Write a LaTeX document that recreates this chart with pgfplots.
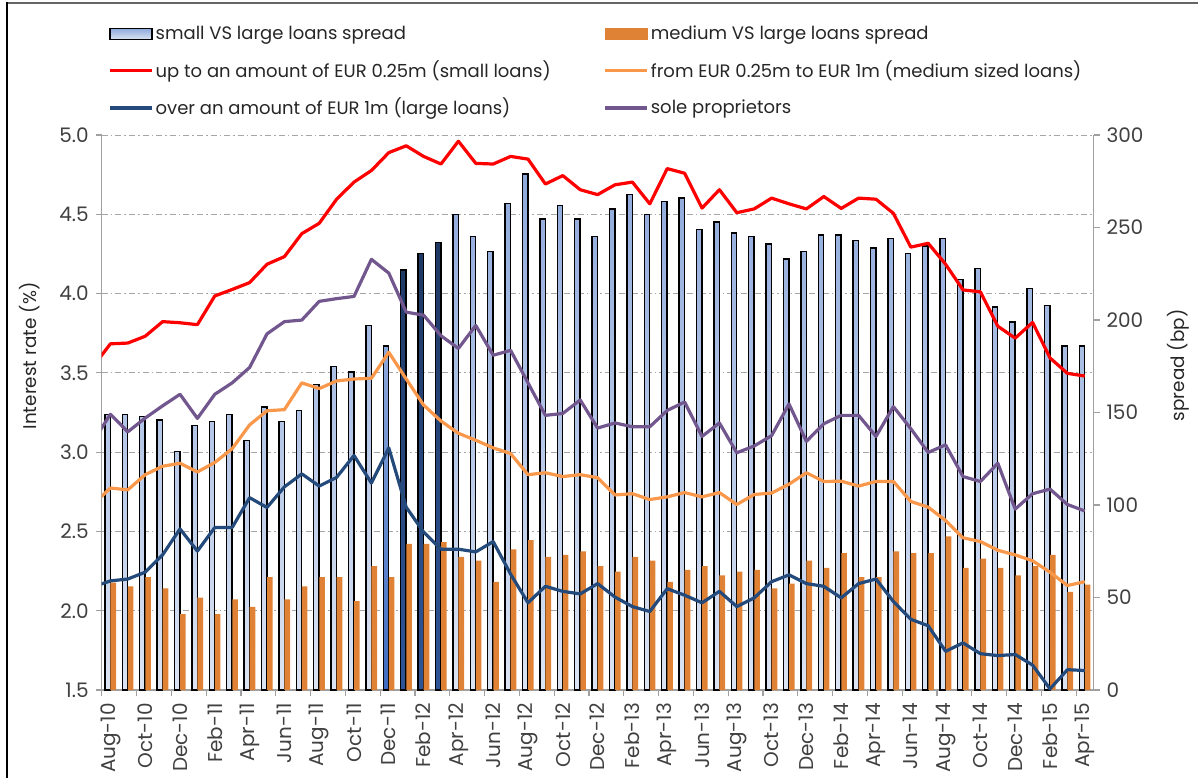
\documentclass[border=0pt]{standalone}
\usepackage{pgfplots}
\pgfplotsset{compat=1.18}
\usepackage{fontspec}
\setmainfont{Poppins}
\definecolor{txt}{HTML}{404040}
\definecolor{legtxt}{HTML}{262626}
\definecolor{axgray}{HTML}{A0A0A0}
\definecolor{gridgray}{HTML}{A6A6A6}
\definecolor{barTop}{HTML}{8EA9DB}
\definecolor{barBot}{HTML}{DCE4F3}
\definecolor{darkTop}{HTML}{1F3864}
\definecolor{darkBot}{HTML}{2F5597}
\definecolor{midBot}{HTML}{3F6CC0}
\definecolor{orBar}{HTML}{DF8236}
\definecolor{cRed}{HTML}{FF0000}
\definecolor{cOr}{HTML}{F9984A}
\definecolor{cBlue}{HTML}{234A7B}
\definecolor{cPur}{HTML}{72578F}
\newcommand\tickfont{\fontsize{10}{12}\selectfont}
\newcommand\labfont{\fontsize{9.2}{11}\selectfont}
\pgfplotsset{base/.style={scale only axis, width=495.9pt, height=277.5pt,
  at={(50.85pt,44pt)}, anchor=south west, xmin=-0.5, xmax=56.5,
  /pgf/number format/assume math mode=true}}
\begin{document}
\begin{tikzpicture}
\useasboundingbox (0,0) rectangle (599pt,389pt);
\draw[black!60, line width=1pt] (3.5pt,387.5pt) -- (599pt,387.5pt);
\draw[black, line width=1pt] (3.5pt,0pt) -- (3.5pt,388pt);
% axis 1: grid, left axis, x ticks
\begin{axis}[base, ymin=1.5, ymax=5, ytick={1.5,2,...,5},
  axis x line*=bottom, axis y line*=left,
  axis line style={draw=axgray, line width=0.6pt},
  tick align=outside, major tick length=3pt,
  tick style={draw=axgray, line width=0.6pt},
  ymajorgrids, grid style={draw=gridgray, line width=0.5pt, dash pattern=on 3pt off 1.5pt on 0.8pt off 1.5pt},
  xtick={-0.5,1.5,...,55.5}, xticklabels={},
  extra x ticks={0,2,...,56},
  extra x tick labels={Aug-10,Oct-10,Dec-10,Feb-11,Apr-11,Jun-11,Aug-11,Oct-11,Dec-11,Feb-12,Apr-12,Jun-12,Aug-12,Oct-12,Dec-12,Feb-13,Apr-13,Jun-13,Aug-13,Oct-13,Dec-13,Feb-14,Apr-14,Jun-14,Aug-14,Oct-14,Dec-14,Feb-15,Apr-15},
  extra x tick style={major tick length=0pt},
  xticklabel style={rotate=90, anchor=east, font=\tickfont, text=txt},
  xticklabel shift=3pt,
  yticklabel style={font=\tickfont, text=txt, /pgf/number format/fixed, /pgf/number format/fixed zerofill, /pgf/number format/precision=1},
  ylabel={Interest rate (\%)},
  every axis y label/.style={at={(axis description cs:-0.0723,0.602)}, anchor=center, rotate=90, font=\labfont, text=legtxt},
]
\end{axis}
% axis 2: bars on right axis
\begin{axis}[base, ymin=0, ymax=300, ytick={0,50,...,300},
  axis y line*=right, hide x axis,
  axis line style={draw=axgray, line width=0.6pt},
  tick align=outside, major tick length=3pt,
  tick style={draw=axgray, line width=0.6pt},
  yticklabel style={font=\tickfont, text=txt},
  ylabel={spread (bp)},
  every axis y label/.style={at={(axis description cs:1.0852,0.585)}, anchor=center, rotate=90, font=\labfont, text=legtxt},
]
\addplot[ybar, bar width=0.31, bar shift=-0.16, draw=black, line width=0.7pt, top color=barTop, bottom color=barBot] coordinates {
(0,149)(1,149)(2,148)(3,146)(4,129)(5,143)(6,145)(7,149)(8,135)(9,153)
(10,145)(11,151)(12,165)(13,175)(14,172)(15,197)
(20,257)(21,245)(22,237)(23,263)(24,279)(25,254.5)(26,262)(27,254.5)(28,245)(29,260)
(30,268)(31,257)(32,264)(33,266)(34,249)(35,253)(36,247)(37,245)(38,241)(39,233)
(40,237)(41,246)(42,246)(43,243)(44,239)(45,244)(46,236)(47,240)(48,244)(49,222)
(50,228)(51,207)(52,199)(53,217)(54,208)(55,186)(56,186)};
\addplot[ybar, bar width=0.31, bar shift=-0.16, draw=black, line width=0.7pt, top color=barTop, bottom color=midBot] coordinates {(16,186)};
\addplot[ybar, bar width=0.31, bar shift=-0.16, draw=black, line width=0.7pt, top color=darkTop, bottom color=darkBot] coordinates {(17,227)(18,236)(19,242)};
\addplot[ybar, bar width=0.32, bar shift=0.165, fill=orBar, draw=none] coordinates {
(0,58)(1,56)(2,61)(3,55)(4,41)(5,50)(6,41)(7,49)(8,45)(9,61)
(10,49)(11,56)(12,61)(13,61)(14,48)(15,67)(16,61)(17,79)(18,79)(19,80)
(20,72)(21,70)(22,58.5)(23,76)(24,81)(25,72)(26,73)(27,75)(28,67)(29,64)
(30,72)(31,70)(32,58.5)(33,65)(34,67)(35,62)(36,64)(37,65)(38,55)(39,57.5)
(40,70)(41,66)(42,74)(43,61)(44,61)(45,75)(46,74)(47,74)(48,83)(49,66)
(50,71)(51,66)(52,62)(53,67)(54,73)(55,53)(56,57)};
\end{axis}
% axis 3: lines
\begin{axis}[base, ymin=1.5, ymax=5, hide axis,
  legend columns=2,
  legend cell align=left,
  legend image code/.code={\draw[#1] (0pt,0pt) -- (21pt,0pt);},
  legend style={at={(0.0064,1.205)}, anchor=north west, draw=none, fill=none,
    font=\fontsize{9}{11}\selectfont, text=legtxt, inner sep=0pt, row sep=5pt,
    nodes={inner xsep=1pt},
    /tikz/every even column/.append style={column sep=0pt}},
]
\addlegendimage{legend image code/.code={\draw[draw=black,line width=0.7pt,top color=barTop,bottom color=barBot] (0pt,-2.8pt) rectangle (21pt,2.8pt);}}
\addlegendentry{\makebox[223pt][l]{small VS large loans spread}}
\addlegendimage{legend image code/.code={\fill[orBar] (0pt,-2.8pt) rectangle (21pt,2.8pt);}}
\addlegendentry{medium VS large loans spread}
\addplot[cRed, line width=1.6pt, line join=round] coordinates {
(-1,3.54)(0,3.683)(1,3.688)(2,3.731)(3,3.823)(4,3.816)(5,3.804)(6,3.985)(7,4.026)(8,4.069)(9,4.185)
(10,4.233)(11,4.378)(12,4.443)(13,4.595)(14,4.703)(15,4.776)(16,4.889)(17,4.932)(18,4.865)(19,4.817)
(20,4.961)(21,4.821)(22,4.817)(23,4.865)(24,4.848)(25,4.691)(26,4.744)(27,4.655)(28,4.624)(29,4.686)
(30,4.703)(31,4.566)(32,4.788)(33,4.759)(34,4.539)(35,4.655)(36,4.510)(37,4.534)(38,4.602)(39,4.566)
(40,4.534)(41,4.612)(42,4.537)(43,4.602)(44,4.595)(45,4.506)(46,4.293)(47,4.317)(48,4.185)(49,4.023)
(50,4.011)(51,3.794)(52,3.719)(53,3.818)(54,3.594)(55,3.497)(56,3.480)};
\addlegendentry{\makebox[223pt][l]{up to an amount of EUR 0.25m (small loans)}}
\addplot[cOr, line width=1.6pt, line join=round] coordinates {
(-1,2.67)(0,2.774)(1,2.762)(2,2.858)(3,2.911)(4,2.930)(5,2.875)(6,2.935)(7,3.022)(8,3.172)(9,3.261)
(10,3.268)(11,3.437)(12,3.401)(13,3.449)(14,3.461)(15,3.466)(16,3.630)(17,3.461)(18,3.297)(19,3.196)
(20,3.119)(21,3.075)(22,3.027)(23,2.991)(24,2.858)(25,2.870)(26,2.846)(27,2.858)(28,2.839)(29,2.730)
(30,2.738)(31,2.701)(32,2.718)(33,2.745)(34,2.718)(35,2.745)(36,2.670)(37,2.733)(38,2.742)(39,2.798)
(40,2.870)(41,2.815)(42,2.817)(43,2.786)(44,2.815)(45,2.815)(46,2.689)(47,2.653)(48,2.569)(49,2.460)
(50,2.436)(51,2.381)(52,2.352)(53,2.315)(54,2.243)(55,2.159)(56,2.183)};
\addlegendentry{from EUR 0.25m to EUR 1m (medium sized loans)}
\addplot[cBlue, line width=1.6pt, line join=round] coordinates {
(-1,2.15)(0,2.188)(1,2.200)(2,2.243)(3,2.352)(4,2.516)(5,2.376)(6,2.525)(7,2.525)(8,2.713)(9,2.651)
(10,2.781)(11,2.863)(12,2.786)(13,2.841)(14,2.979)(15,2.805)(16,3.027)(17,2.653)(18,2.496)(19,2.388)
(20,2.388)(21,2.371)(22,2.436)(23,2.231)(24,2.050)(25,2.154)(26,2.122)(27,2.106)(28,2.171)(29,2.086)
(30,2.026)(31,1.995)(32,2.139)(33,2.098)(34,2.050)(35,2.122)(36,2.026)(37,2.081)(38,2.183)(39,2.226)
(40,2.171)(41,2.154)(42,2.081)(43,2.171)(44,2.200)(45,2.058)(46,1.946)(47,1.905)(48,1.744)(49,1.797)
(50,1.729)(51,1.717)(52,1.724)(53,1.657)(54,1.507)(55,1.628)(56,1.623)};
\addlegendentry{\makebox[223pt][l]{over an amount of EUR 1m (large loans)}}
\addplot[cPur, line width=1.6pt, line join=round] coordinates {
(-1,3.067)(0,3.239)(1,3.128)(2,3.215)(3,3.292)(4,3.365)(5,3.213)(6,3.365)(7,3.437)(8,3.534)(9,3.746)
(10,3.823)(11,3.833)(12,3.951)(13,3.968)(14,3.982)(15,4.216)(16,4.129)(17,3.883)(18,3.864)(19,3.734)
(20,3.654)(21,3.799)(22,3.611)(23,3.642)(24,3.437)(25,3.232)(26,3.244)(27,3.329)(28,3.152)(29,3.184)
(30,3.160)(31,3.160)(32,3.263)(33,3.316)(34,3.099)(35,3.184)(36,2.996)(37,3.039)(38,3.104)(39,3.304)
(40,3.068)(41,3.179)(42,3.232)(43,3.232)(44,3.099)(45,3.287)(46,3.148)(47,2.998)(48,3.046)(49,2.846)
(50,2.815)(51,2.930)(52,2.641)(53,2.738)(54,2.767)(55,2.670)(56,2.629)};
\addlegendentry{sole proprietors}
\end{axis}
\end{tikzpicture}
\end{document}
